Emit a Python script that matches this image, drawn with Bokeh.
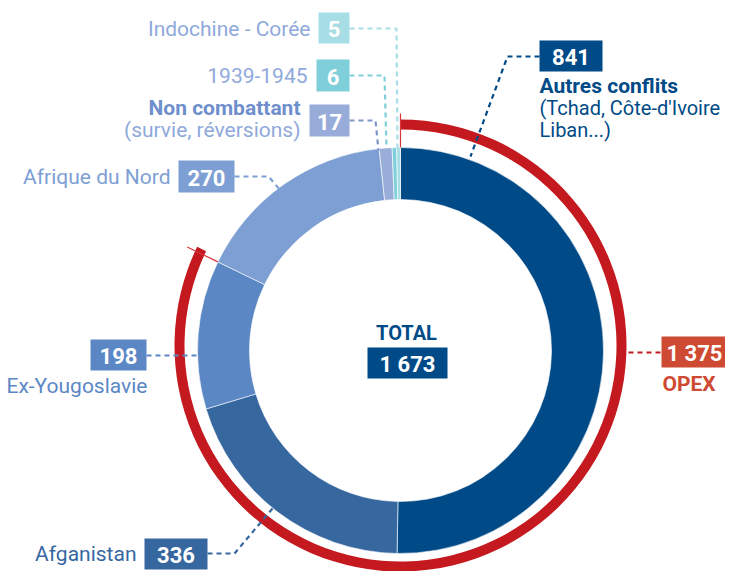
import math
from bokeh.plotting import figure
from bokeh.models import Range1d
from bokeh.core.properties import value
from bokeh.embed import file_html
from bokeh.resources import INLINE

# ---- data ----
categories = ["Autres conflits", "Afganistan", "Ex-Yougoslavie", "Afrique du Nord",
              "Non combattant", "1939-1945", "Indochine - Corée"]
values = [841, 336, 198, 270, 17, 6, 5]
colors = ["#004a87", "#36679f", "#5b87c5", "#7d9fd3", "#98add8", "#7ecfda", "#a7dde5"]
opex_categories = ["Autres conflits", "Afganistan", "Ex-Yougoslavie"]
total_label = "1 673"
opex_label = "1 375"

FONT = value("Roboto")
W, H = 725, 571
LBL = "21px"
NUM = "22px"


def P(x, y):
    """page pixel -> data coords"""
    return x, H - y


p = figure(width=W, height=H, output_backend="svg", toolbar_location=None,
           x_range=Range1d(0, W), y_range=Range1d(0, H),
           x_axis_type=None, y_axis_type=None, min_border=0)
p.outline_line_color = None
p.grid.visible = False

cx, cy = P(400, 350)
total = sum(values)

# donut
starts, ends = [], []
cum = 0
for v in values:
    a0 = math.pi / 2 - 2 * math.pi * (cum + v) / total
    a1 = math.pi / 2 - 2 * math.pi * cum / total
    starts.append(a0)
    ends.append(a1)
    cum += v
p.annular_wedge(x=cx, y=cy, inner_radius=151, outer_radius=203,
                start_angle=starts, end_angle=ends, fill_color=colors,
                line_color="white", line_width=0.6)

# OPEX arc
opex = sum(v for c, v in zip(categories, values) if c in opex_categories)
oa0 = math.pi / 2 - 2 * math.pi * opex / total
oa1 = math.pi / 2
RED = "#c4191e"
rx, ry = P(400, 345)
p.annular_wedge(x=rx, y=ry, inner_radius=216, outer_radius=226,
                start_angle=oa0, end_angle=oa1, fill_color=RED, line_color=None)
for a in (oa0, oa1):
    p.segment(x0=cx + 203 * math.cos(a), y0=cy + 203 * math.sin(a),
              x1=cx + 237 * math.cos(a), y1=cy + 237 * math.sin(a),
              line_color="#d9363b", line_width=1.2)

# leaders (page pixel paths)
leaders = [
    ([(349, 28), (396, 28), (397, 148)], "#a7dde5"),
    ([(349, 75), (384, 75), (386, 148)], "#7ecfda"),
    ([(349, 120), (375, 120), (378, 150)], "#7d95c8"),
    ([(234, 176), (268, 176), (280, 190)], "#7d9fd3"),
    ([(146, 355), (198, 355)], "#5b87c5"),
    ([(207, 553), (234, 553), (272, 508)], "#36679f"),
    ([(539, 56), (507, 56), (470, 156)], "#004a87"),
    ([(628, 352), (661, 352)], RED),
]
xs, ys, lc = [], [], []
for pts, c in leaders:
    xs.append([P(a, b)[0] for a, b in pts])
    ys.append([P(a, b)[1] for a, b in pts])
    lc.append(c)
p.multi_line(xs=xs, ys=ys, line_color=lc, line_width=2.2, line_dash="5 4")


# number boxes
def box(x0, y0, x1, y1, fill, txt, size=NUM):
    a, b = P(x0, y0)
    c, d = P(x1, y1)
    p.quad(left=a, right=c, top=b, bottom=d, fill_color=fill, line_color=None)
    p.text(x=[(a + c) / 2], y=[(b + d) / 2 - 1], text=[txt], text_color="white",
           text_font=FONT, text_font_style="bold", text_font_size=size,
           text_align="center", text_baseline="middle")


def label(x, y, txt, color, align="left", bold=False, size=LBL):
    a, b = P(x, y)
    p.text(x=[a], y=[b], text=[txt], text_color=color, text_font=FONT,
           text_font_style="bold" if bold else "normal", text_font_size=size,
           text_align=align, text_baseline="middle")


idx = {c: i for i, c in enumerate(categories)}

# Indochine - Corée
box(318, 12, 349, 43, colors[idx["Indochine - Corée"]], str(values[idx["Indochine - Corée"]]))
label(310, 28, "Indochine - Corée", "#8fa9db", "right")
# 1939-1945
box(316, 59, 349, 91, colors[idx["1939-1945"]], str(values[idx["1939-1945"]]))
label(307, 75, "1939-1945", "#8fa9db", "right")
# Non combattant
box(309, 104, 349, 136, "#97acd9", str(values[idx["Non combattant"]]))
label(300, 107, "Non combattant", "#6f8fcc", "right", bold=True)
label(300, 129, "(survie, réversions)", "#8fa9db", "right")
# Afrique du Nord
box(178, 160, 234, 192, colors[idx["Afrique du Nord"]], str(values[idx["Afrique du Nord"]]))
label(170, 176, "Afrique du Nord", "#7d9fd3", "right")
# Ex-Yougoslavie
box(90, 339, 146, 370, colors[idx["Ex-Yougoslavie"]], str(values[idx["Ex-Yougoslavie"]]))
label(147, 385, "Ex-Yougoslavie", "#5b87c5", "right")
# Afganistan
box(144, 538, 207, 569, colors[idx["Afganistan"]], str(values[idx["Afganistan"]]))
label(136, 553, "Afganistan", "#36679f", "right")
# Autres conflits
box(539, 40, 602, 71, colors[idx["Autres conflits"]], str(values[idx["Autres conflits"]]))
label(539, 85, "Autres conflits", "#004a87", bold=True)
label(539, 107, "(Tchad, Côte-d'Ivoire", "#004a87", size="20px")
label(539, 129, "Liban...)", "#004a87", size="20px")
# OPEX
box(661, 336, 727, 367, "#cf4a33", opex_label)
label(662, 383, "OPEX", "#cf4a33", bold=True)
# TOTAL
label(406, 332, "TOTAL", "#004a87", "center", bold=True, size="20px")
box(367, 347, 447, 378, "#004a87", total_label)

open("out.html", "w").write(file_html(p, INLINE))
